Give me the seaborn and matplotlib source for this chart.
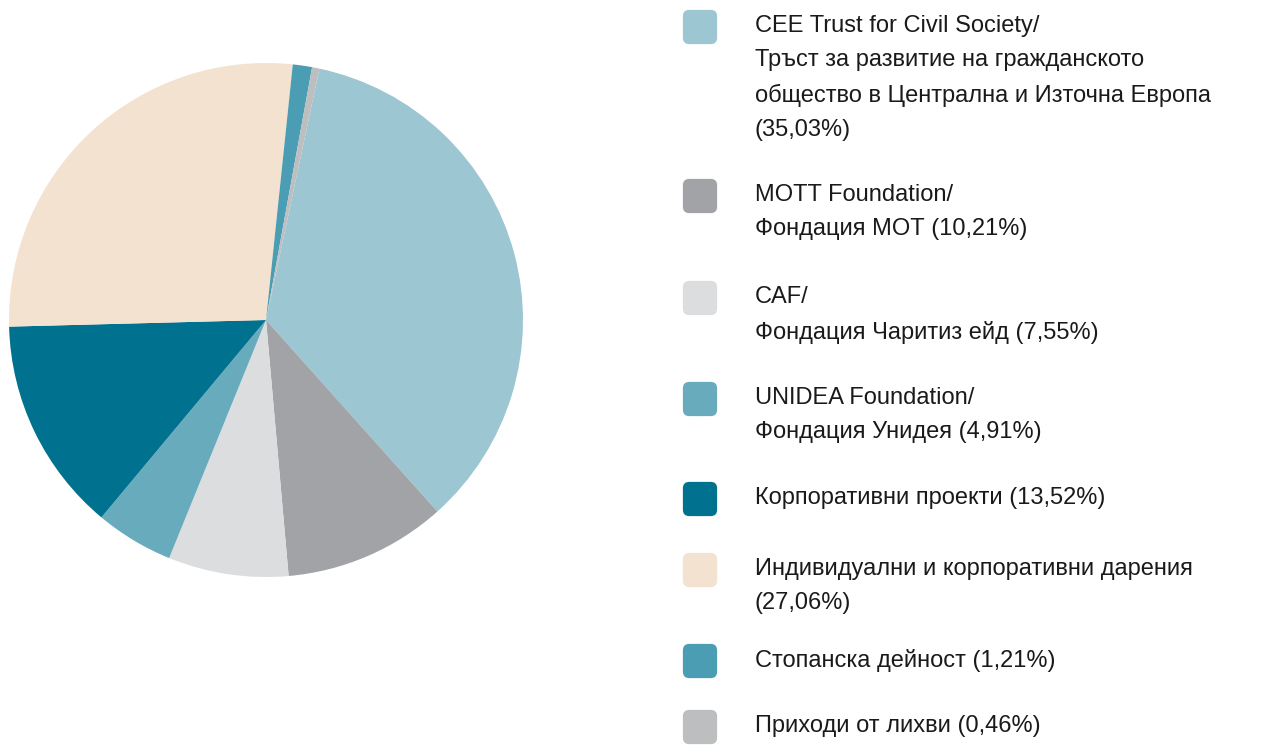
import matplotlib.pyplot as plt
import seaborn as sns
from matplotlib.patches import FancyBboxPatch

# Data
labels = [
    "CEE Trust for Civil Society/\nТръст за развитие на гражданското\nобщество в Централна и Източна Европа\n(35,03%)",
    "MOTT Foundation/\nФондация МОТ (10,21%)",
    "CAF/\nФондация Чаритиз ейд (7,55%)",
    "UNIDEA Foundation/\nФондация Унидея (4,91%)",
    "Корпоративни проекти (13,52%)",
    "Индивидуални и корпоративни дарения\n(27,06%)",
    "Стопанска дейност (1,21%)",
    "Приходи от лихви (0,46%)",
]
shares = [35.03, 10.21, 7.55, 4.91, 13.52, 27.06, 1.21, 0.46]
colors = ["#9dc6d3", "#a1a3a6", "#dcdddf", "#68abbc", "#00718f", "#f4e2d0", "#4b9db3", "#bcbec0"]

# legend square top positions (px from top)
legend_top = [12, 181, 283, 384, 484, 555, 646, 712]

sns.set_theme(style="white")
plt.rcParams['font.family'] = ['Liberation Sans', 'DejaVu Sans']

W, H = 1280, 745
fig = plt.figure(figsize=(W / 100, H / 100), dpi=100)
fig.patch.set_facecolor("white")

# Pie
cx, cy, r = 266, 320, 257
ax = fig.add_axes([(cx - r) / W, (H - cy - r) / H, 2 * r / W, 2 * r / H])
ax.pie(shares, colors=colors, startangle=78, counterclock=False,
       wedgeprops={"linewidth": 0}, radius=1)
ax.set_xlim(-1, 1)
ax.set_ylim(-1, 1)
ax.set_aspect("equal")
ax.axis("off")

# Legend
for lab, col, top in zip(labels, colors, legend_top):
    sq = FancyBboxPatch(((685 + 3) / W, (H - top - 30 + 3) / H), 24 / W, 24 / H,
                        boxstyle="round,pad=0.004,rounding_size=0.005",
                        transform=fig.transFigure, facecolor=col, edgecolor="none",
                        mutation_aspect=W / H)
    fig.patches.append(sq)
    fig.text(755 / W, (H - top - 3) / H, lab, ha="left", va="top",
             fontsize=17, color="#1a1a1a", linespacing=1.70)

fig.savefig("out.png", dpi=100)
